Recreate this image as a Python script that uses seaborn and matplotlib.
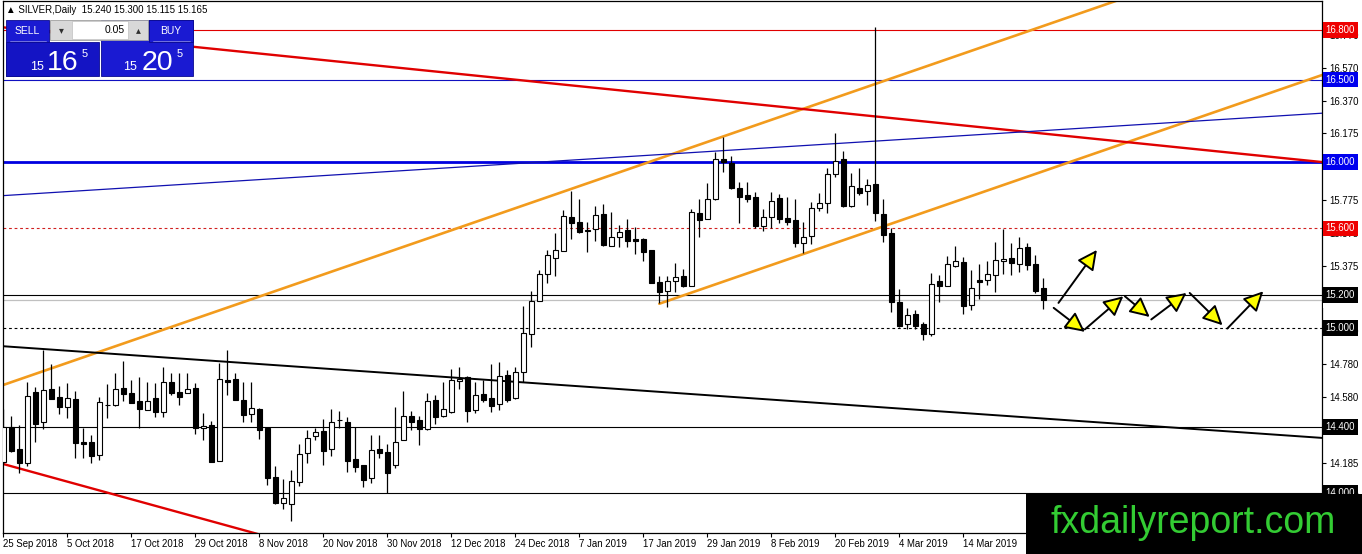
import numpy as np
import pandas as pd
import matplotlib
matplotlib.use('Agg')
import matplotlib.pyplot as plt
import seaborn as sns
from matplotlib.patches import Rectangle
from matplotlib.transforms import blended_transform_factory

# --- datos OHLC diarios de SILVER ---
opens = [14.19, 14.40, 14.267, 14.18, 14.611, 14.428, 14.627, 14.579, 14.522, 14.569,
         14.307, 14.307, 14.232, 14.53, 14.533, 14.633, 14.605, 14.557, 14.503, 14.575,
         14.492, 14.672, 14.611, 14.607, 14.633, 14.392, 14.414, 14.196, 14.684, 14.688,
         14.563, 14.476, 14.507, 14.392, 14.10, 13.938, 13.934, 14.069, 14.24, 14.347,
         14.376, 14.265, 14.44, 14.43, 14.206, 14.17, 14.09, 14.269, 14.25, 14.17,
         14.321, 14.466, 14.442, 14.387, 14.563, 14.468, 14.492, 14.676, 14.70, 14.503,
         14.60, 14.573, 14.537, 14.714, 14.573, 14.73, 14.962, 15.164, 15.325, 15.42,
         15.464, 15.667, 15.637, 15.591, 15.595, 15.686, 15.496, 15.551, 15.591, 15.534,
         15.534, 15.47, 15.274, 15.224, 15.285, 15.313, 15.252, 15.692, 15.66, 15.78,
         16.018, 15.998, 15.843, 15.803, 15.788, 15.615, 15.668, 15.782, 15.662, 15.651,
         15.511, 15.557, 15.726, 15.756, 15.93, 16.018, 15.738, 15.843, 15.827, 15.869,
         15.688, 15.571, 15.153, 15.02, 15.083, 15.022, 14.96, 15.282, 15.254, 15.375,
         15.395, 15.137, 15.286, 15.288, 15.319, 15.403, 15.424, 15.383, 15.49, 15.383,
         15.24]
highs = [14.51, 14.466, 14.41, 14.674, 14.644, 14.865, 14.78, 14.647, 14.664, 14.617,
         14.392, 14.35, 14.583, 14.66, 14.728, 14.80, 14.684, 14.70, 14.674, 14.664,
         14.765, 14.728, 14.728, 14.728, 14.664, 14.482, 14.436, 14.785, 14.865, 14.728,
         14.674, 14.674, 14.512, 14.392, 14.164, 14.085, 14.14, 14.30, 14.382, 14.392,
         14.446, 14.506, 14.498, 14.458, 14.40, 14.17, 14.35, 14.35, 14.30, 14.52,
         14.617, 14.496, 14.466, 14.607, 14.591, 14.674, 14.748, 14.765, 14.708, 14.674,
         14.684, 14.78, 14.795, 14.744, 14.76, 15.131, 15.224, 15.349, 15.47, 15.571,
         15.712, 15.829, 15.776, 15.637, 15.736, 15.748, 15.698, 15.621, 15.655, 15.607,
         15.54, 15.47, 15.315, 15.313, 15.393, 15.353, 15.718, 15.776, 15.873, 16.065,
         16.151, 16.038, 15.879, 15.883, 15.823, 15.716, 15.823, 15.809, 15.788, 15.776,
         15.641, 15.762, 15.813, 15.964, 16.175, 16.07, 15.934, 15.964, 15.897, 16.816,
         15.776, 15.601, 15.232, 15.121, 15.107, 15.037, 15.329, 15.319, 15.434, 15.494,
         15.43, 15.349, 15.383, 15.403, 15.52, 15.597, 15.51, 15.55, 15.51, 15.44,
         15.30]
lows = [14.17, 14.25, 14.12, 14.164, 14.31, 14.386, 14.569, 14.478, 14.452, 14.21,
        14.21, 14.184, 14.20, 14.456, 14.527, 14.559, 14.547, 14.392, 14.50, 14.462,
        14.462, 14.591, 14.533, 14.607, 14.36, 14.32, 14.186, 14.196, 14.593, 14.563,
        14.432, 14.43, 14.325, 14.05, 13.934, 13.902, 13.834, 14.043, 14.184, 14.32,
        14.17, 14.224, 14.392, 14.13, 14.13, 14.039, 14.06, 14.21, 14.0, 14.15,
        14.321, 14.38, 14.29, 14.38, 14.42, 14.458, 14.486, 14.628, 14.432, 14.486,
        14.553, 14.492, 14.503, 14.553, 14.567, 14.674, 14.882, 15.164, 15.273, 15.315,
        15.464, 15.534, 15.571, 15.456, 15.526, 15.494, 15.496, 15.49, 15.49, 15.446,
        15.405, 15.268, 15.148, 15.128, 15.218, 15.248, 15.252, 15.551, 15.66, 15.772,
        15.944, 15.839, 15.635, 15.762, 15.601, 15.587, 15.601, 15.631, 15.621, 15.49,
        15.45, 15.506, 15.708, 15.696, 15.91, 15.732, 15.728, 15.803, 15.742, 15.645,
        15.521, 15.093, 15.006, 14.992, 14.992, 14.926, 14.952, 15.158, 15.254, 15.369,
        15.081, 15.107, 15.174, 15.258, 15.218, 15.323, 15.319, 15.339, 15.349, 15.208,
        15.115]
closes = [14.40, 14.256, 14.184, 14.59, 14.42, 14.621, 14.569, 14.522, 14.573, 14.301,
          14.299, 14.224, 14.551, 14.532, 14.627, 14.597, 14.547, 14.511, 14.557, 14.492,
          14.672, 14.603, 14.583, 14.627, 14.392, 14.408, 14.19, 14.688, 14.674, 14.563,
          14.47, 14.512, 14.382, 14.09, 13.938, 13.968, 14.075, 14.234, 14.331, 14.367,
          14.257, 14.432, 14.444, 14.196, 14.16, 14.08, 14.26, 14.24, 14.12, 14.307,
          14.466, 14.432, 14.387, 14.557, 14.462, 14.508, 14.684, 14.69, 14.498, 14.593,
          14.563, 14.529, 14.708, 14.563, 14.73, 14.966, 15.164, 15.323, 15.44, 15.468,
          15.675, 15.635, 15.581, 15.587, 15.681, 15.50, 15.547, 15.581, 15.526, 15.526,
          15.46, 15.268, 15.218, 15.283, 15.305, 15.254, 15.698, 15.651, 15.776, 16.018,
          16.0, 15.847, 15.792, 15.778, 15.615, 15.668, 15.768, 15.656, 15.641, 15.515,
          15.551, 15.722, 15.756, 15.928, 16.01, 15.738, 15.857, 15.817, 15.863, 15.692,
          15.561, 15.158, 15.012, 15.077, 15.012, 14.96, 15.262, 15.254, 15.383, 15.403,
          15.131, 15.238, 15.278, 15.323, 15.407, 15.415, 15.389, 15.484, 15.379, 15.222,
          15.165]

# etiquetas de fecha (cada 8 velas)
date_bars = [0, 8, 16, 24, 32, 40, 48, 56, 64, 72, 80, 88, 96, 104, 112, 120]
date_labels = ['25 Sep 2018', '5 Oct 2018', '17 Oct 2018', '29 Oct 2018', '8 Nov 2018',
               '20 Nov 2018', '30 Nov 2018', '12 Dec 2018', '24 Dec 2018', '7 Jan 2019',
               '17 Jan 2019', '29 Jan 2019', '8 Feb 2019', '20 Feb 2019', '4 Mar 2019',
               '14 Mar 2019']

# escala de precios (eje derecho)
price_ticks = [16.770, 16.570, 16.370, 16.175, 15.975, 15.775, 15.575, 15.375, 15.175,
               14.980, 14.780, 14.580, 14.380, 14.185, 13.990]

# niveles horizontales
levels = [16.8, 16.5, 16.0, 15.6, 15.2, 15.0, 14.4, 14.0]
bid_price = 15.165

# lineas de tendencia: dos puntos ancla (vela, precio)
trend_orange_hi = [(0, 14.654), (130, 16.824)]
trend_orange_lo = [(82, 15.145), (130, 15.946)]
trend_red_hi = [(24, 16.697), (113.3, 16.256)]
trend_red_lo = [(0, 14.176), (30, 13.777)]
trend_black = [(0, 14.888), (130, 14.451)]
trend_blue = [(85.84, 16.058), (113.3, 16.141)]

# flechas de pronostico (inicio, fin)
forecast_arrows = [((131.9, 15.15), (136.7, 15.47)),
                   ((131.3, 15.12), (135.2, 14.975)),
                   ((135.2, 14.99), (140.0, 15.19)),
                   ((140.2, 15.19), (143.3, 15.065)),
                   ((143.5, 15.05), (147.9, 15.21)),
                   ((148.3, 15.21), (152.4, 15.015)),
                   ((153.0, 14.995), (157.5, 15.22))]

header = '\u25b2 SILVER,Daily  15.240 15.300 15.115 15.165'

# ---------------------------------------------------------------
W, H = 1362, 554
sns.set_theme(style='white')
plt.rcParams['font.family'] = ['Liberation Sans', 'DejaVu Sans']

fig = plt.figure(figsize=(W / 100, H / 100), dpi=100)
fig.patch.set_facecolor('white')
ax = fig.add_axes([2.5 / W, 21 / H, (1322 - 2.5) / W, 532 / H])
ax.set_facecolor('white')

xmin, xmax = -0.1, 164.84
ax.set_xlim(xmin, xmax)
ax.set_ylim(13.759, 16.975)

df = pd.DataFrame({'bar': np.arange(len(opens)), 'open': opens, 'high': highs,
                   'low': lows, 'close': closes})
df['up'] = df['close'] >= df['open']
df['body_lo'] = df[['open', 'close']].min(axis=1)
df['body_h'] = (df['close'] - df['open']).abs().clip(lower=0.004)

# niveles horizontales
lvl_style = {16.8: ('#e00000', '-', 0.8), 16.5: ('#1010c0', '-', 0.8),
             16.0: ('#0000e0', '-', 2.0), 15.6: ('#d02020', (0, (2.5, 2.5)), 0.8),
             15.2: ('black', '-', 0.8), 15.0: ('black', (0, (2.5, 2.5)), 0.8),
             14.4: ('black', '-', 0.8), 14.0: ('black', '-', 0.8)}
for lv in levels:
    c, ls, lw = lvl_style[lv]
    ax.axhline(lv, color=c, ls=ls, lw=lw, zorder=1)
ax.axhline(bid_price, color='#c0c0c0', lw=0.9, zorder=1)


def ray(anchors, start, end):
    (x0, p0), (x1, p1) = anchors
    k = (p1 - p0) / (x1 - x0)
    xs = np.array([start, end])
    return xs, p0 + k * (xs - x0)


trend_specs = [(trend_orange_hi, xmin, xmax, '#f29b1d', 1.9),
               (trend_orange_lo, trend_orange_lo[0][0], xmax, '#f29b1d', 1.9),
               (trend_red_hi, xmin, xmax, '#e00000', 1.7),
               (trend_red_lo, xmin, 40, '#e00000', 1.7),
               (trend_black, xmin, xmax, 'black', 1.4),
               (trend_blue, xmin, xmax, '#1010b0', 0.9)]
for anchors, s, e, col, lw in trend_specs:
    xs, ys = ray(anchors, s, e)
    sns.lineplot(x=xs, y=ys, color=col, linewidth=lw, ax=ax, zorder=2)

# velas
ax.vlines(df['bar'], df['low'], df['high'], color='black', lw=0.9, zorder=3)
ax.bar(df['bar'], df['body_h'], bottom=df['body_lo'], width=0.62,
       color=np.where(df['up'], 'white', 'black'), edgecolor='black',
       linewidth=0.8, zorder=4)

# flechas amarillas
for (p0, p1) in forecast_arrows:
    ax.annotate('', xy=p1, xytext=p0, zorder=6,
                arrowprops=dict(arrowstyle='-|>,head_length=1.0,head_width=0.5',
                                mutation_scale=12, lw=1.4, fc='#ffff00', ec='black',
                                shrinkA=0, shrinkB=0))

# ejes
for sp in ax.spines.values():
    sp.set_color('black')
    sp.set_linewidth(0.9)
ax.yaxis.tick_right()
ax.set_yticks(price_ticks)
ax.set_yticklabels([f'{v:.3f}' for v in price_ticks])
ax.set_xticks(date_bars)
ax.set_xticklabels(date_labels)
ax.tick_params(axis='both', direction='out', length=3, width=0.8, color='black',
               labelsize=6.9, labelcolor='black', pad=2)
ax.tick_params(axis='y', right=True, left=False)
ax.tick_params(axis='x', bottom=True, pad=1.5)
for lbl in ax.get_xticklabels():
    lbl.set_horizontalalignment('left')
ax.grid(False)

# cajas de precio en el eje derecho
blend = blended_transform_factory(ax.transAxes, ax.transData)
box_col = {16.8: '#ee0000', 16.5: '#0000ee', 16.0: '#0000ee', 15.6: '#ee0000',
           15.2: 'black', 15.0: 'black', 14.4: 'black', 14.0: 'black'}
ax.text(1.0027, bid_price, f'{bid_price:.3f}', transform=blend, ha='left', va='center',
        fontsize=6.9, color='black', zorder=9, clip_on=False,
        bbox=dict(boxstyle='square,pad=0.3', fc='white', ec='none'))
for lv in levels:
    ax.text(1.0027, lv, f'{lv:.3f}', transform=blend, ha='left', va='center',
            fontsize=6.9, color='white', zorder=10, clip_on=False,
            bbox=dict(boxstyle='square,pad=0.3', fc=box_col[lv], ec='none'))


# ---- panel superior izquierdo (SELL / BUY) ----
def px(x, y):
    return x / W, 1 - y / H


def rect(x0, y0, x1, y1, **kw):
    fx, fy = px(x0, y1)
    fig.add_artist(Rectangle((fx, fy), (x1 - x0) / W, (y1 - y0) / H,
                             transform=fig.transFigure, **kw))


fig.text(*px(6, 10), header, fontsize=7, va='center', ha='left', color='black')

rect(6, 20, 49, 76, fc='#1a1ad2', ec='#0a0a90', lw=0.6)
rect(101, 20, 193, 76, fc='#1a1ad2', ec='#0a0a90', lw=0.6)
rect(6, 42, 99, 76, fc='#1414c4', ec='#0a0a90', lw=0.6)
rect(149, 20, 193, 42, fc='#1a1ad2', ec='#0a0a90', lw=0.6)
rect(50, 20, 148, 40, fc='#d8d8d8', ec='#a0a0a0', lw=0.6)
rect(72, 21, 128, 39, fc='white', ec='#c0c0c0', lw=0.5)
fig.add_artist(plt.Line2D([px(10, 0)[0], px(46, 0)[0]], [px(0, 41)[1]] * 2,
                          transform=fig.transFigure, color='#8080e0', lw=0.6))
fig.add_artist(plt.Line2D([px(153, 0)[0], px(190, 0)[0]], [px(0, 41)[1]] * 2,
                          transform=fig.transFigure, color='#8080e0', lw=0.6))

fig.text(*px(27, 31), 'SELL', fontsize=7.5, color='white', ha='center', va='center')
fig.text(*px(171, 31), 'BUY', fontsize=7.5, color='white', ha='center', va='center')
fig.text(*px(61, 30), '\u25be', fontsize=7, color='#303030', ha='center', va='center',
         family=['DejaVu Sans'])
fig.text(*px(138, 30), '\u25b4', fontsize=7, color='#303030', ha='center', va='center',
         family=['DejaVu Sans'])
fig.text(*px(125, 30), '0.05', fontsize=7.5, color='black', ha='right', va='center')

fig.text(*px(37, 70), '15', fontsize=9, color='white', ha='center', va='baseline')
fig.text(*px(63, 70), '16', fontsize=20.5, color='white', ha='center', va='baseline')
fig.text(*px(85, 49), '5', fontsize=8, color='white', ha='center', va='top')
fig.text(*px(130, 70), '15', fontsize=9, color='white', ha='center', va='baseline')
fig.text(*px(157, 70), '20', fontsize=20.5, color='white', ha='center', va='baseline')
fig.text(*px(180, 49), '5', fontsize=8, color='white', ha='center', va='top')

# ---- marca de agua ----
rect(1026, 494, 1362, 554, fc='black', ec='none', zorder=20)
fig.text(*px(1193, 533), 'fxdailyreport.com', fontsize=27, color='#33cc33',
         ha='center', va='baseline', zorder=21)

fig.savefig('out.png', dpi=100, facecolor='white')
